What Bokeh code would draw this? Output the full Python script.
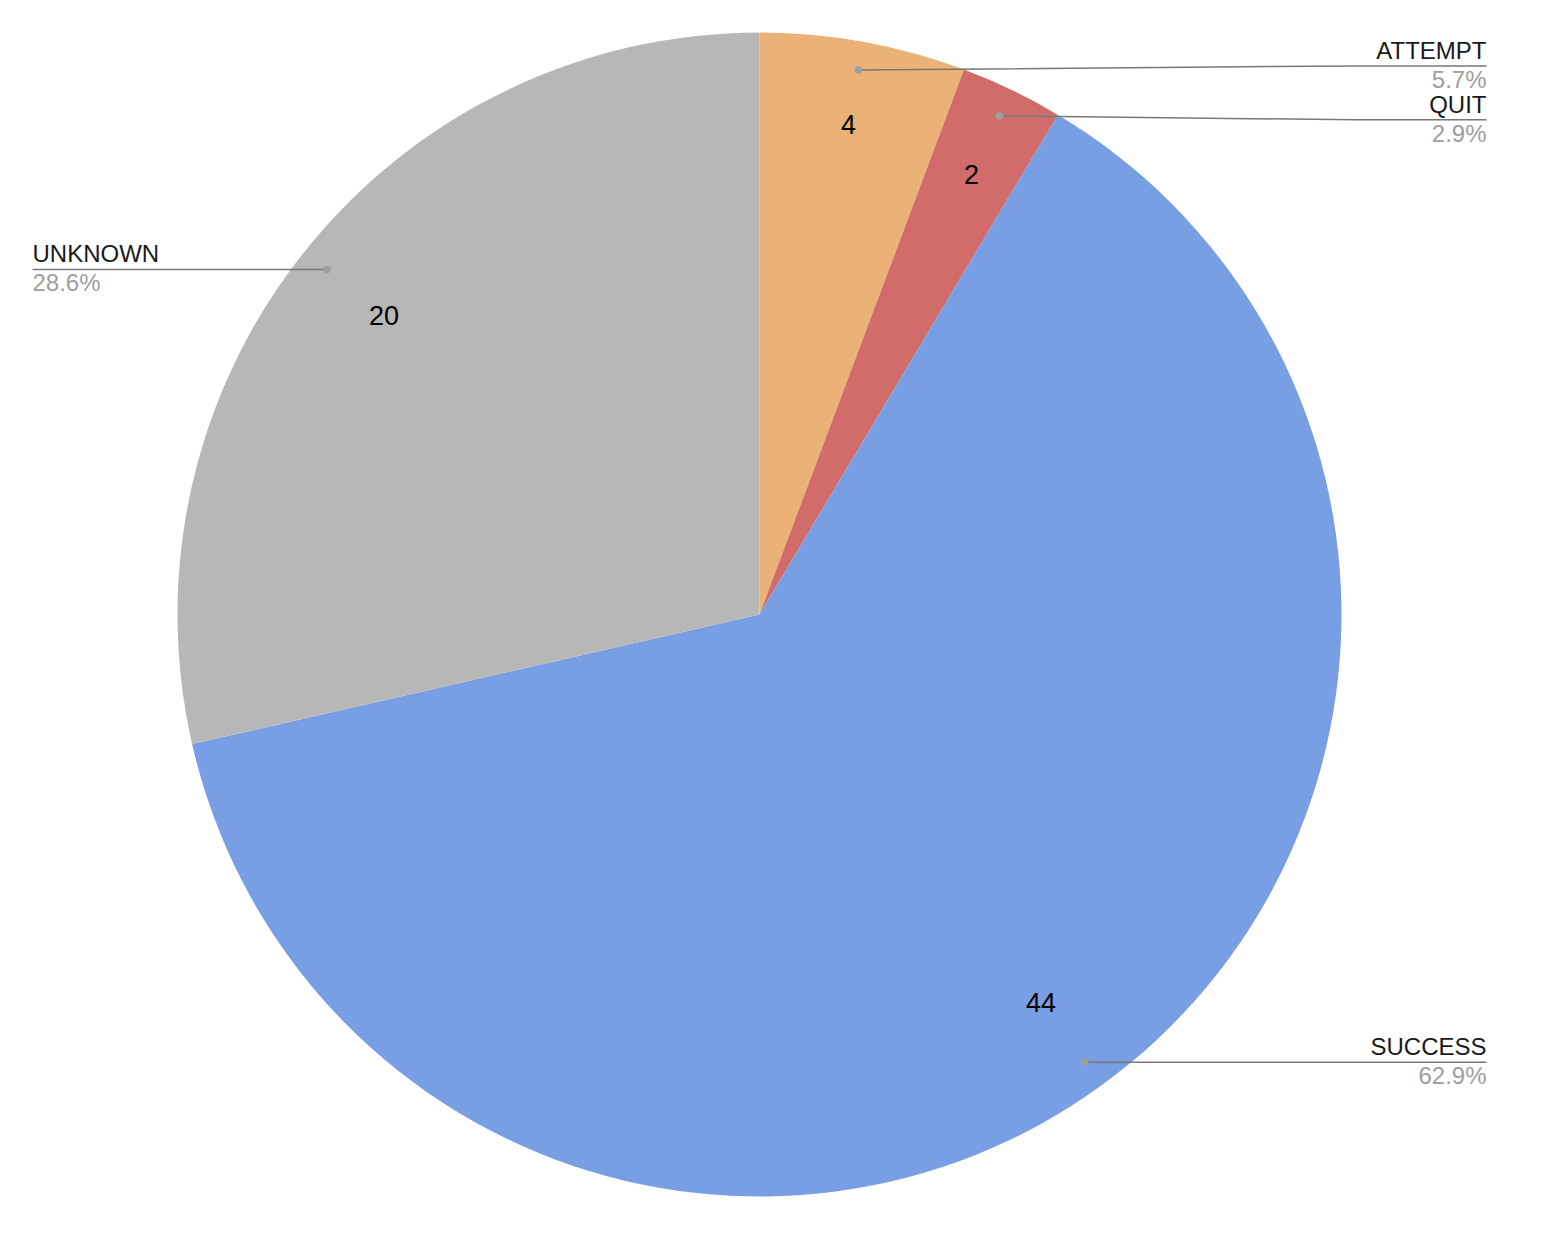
import math
from bokeh.plotting import figure
from bokeh.models import Range1d
from bokeh.embed import file_html
from bokeh.resources import INLINE
from bokeh.core.properties import value

# ---- data ----
categories = ["ATTEMPT", "QUIT", "SUCCESS", "UNKNOWN"]
counts = [4, 2, 44, 20]
colors = ["#ebb277", "#d16c6a", "#789fe3", "#b7b7b7"]

# ---- layout (not data) ----
W, H = 1530, 1218
PAGE_H = 1234
def Y(ry):
    return PAGE_H - ry

cx, cy = 759, Y(614)
R = 582
dot_r = 0.951 * R
val_r_factor = [0.856, 0.84, 0.823, 0.825]
label_y_shift = [4, -4, 0, 0]      # px, up positive
right_end_x, left_end_x, knee_x = 1486, 32, 1355
FONT = "Liberation Sans"

p = figure(width=W, height=H, x_range=Range1d(0, W), y_range=Range1d(PAGE_H - H, PAGE_H),
           output_backend="svg", toolbar_location=None, min_border=0)
p.axis.visible = False
p.grid.visible = False
p.outline_line_color = None
p.background_fill_color = "white"
p.border_fill_color = "white"

total = sum(counts)
starts, ends = [], []
acc = 0
for c in counts:
    starts.append(acc / total * 2 * math.pi)
    acc += c
    ends.append(acc / total * 2 * math.pi)

# wedges (clockwise from top)
p.wedge(x=[cx] * len(counts), y=[cy] * len(counts), radius=R,
        start_angle=[math.pi / 2 - s for s in starts],
        end_angle=[math.pi / 2 - e for e in ends],
        direction="clock", fill_color=colors, line_color=None)

def pt(r, th):
    return cx + r * math.sin(th), cy + r * math.cos(th)

for i, (cat, cnt) in enumerate(zip(categories, counts)):
    mid = (starts[i] + ends[i]) / 2
    dx, dy = pt(dot_r, mid)
    ly = dy + label_y_shift[i]
    right = math.sin(mid) > 0
    if right:
        xs = [dx, knee_x, right_end_x]
        ys = [dy, ly, ly]
        ex, align = right_end_x, "right"
    else:
        xs = [dx, left_end_x]
        ys = [dy, ly]
        ex, align = left_end_x, "left"
    p.line(xs, ys, line_color="#777777", line_width=1.5)
    p.scatter([dx], [dy], size=7.5, fill_color="#9e9e9e", line_color=None)
    p.text([ex], [ly + 2], text=[cat], text_align=align, text_baseline="bottom",
           text_font=value(FONT), text_font_size="24px", text_color="#1a1a1a")
    pct = f"{cnt / total * 100:.1f}%"
    p.text([ex], [ly], text=[pct], text_align=align, text_baseline="top",
           text_font=value(FONT), text_font_size="24px", text_color="#9e9e9e")
    vx, vy = pt(val_r_factor[i] * R, mid)
    p.text([vx], [vy], text=[str(cnt)], text_align="center", text_baseline="middle",
           text_font=value(FONT), text_font_size="27px", text_color="#000000")

open("out.html", "w").write(file_html(p, INLINE))
